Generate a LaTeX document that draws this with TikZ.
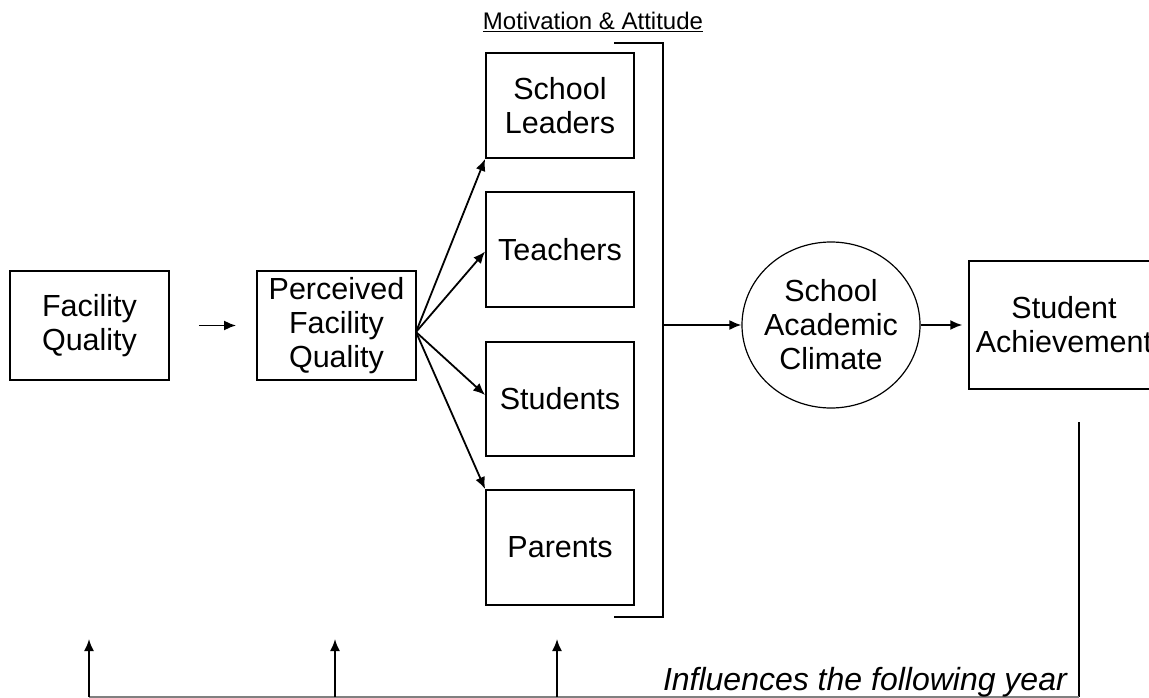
\documentclass[tikz,border=0pt]{standalone}
\usepackage{fontspec}
\setmainfont{Liberation Sans}
\usetikzlibrary{shapes.geometric,arrows.meta}
\begin{document}
\begin{tikzpicture}[x=1pt,y=-1pt,
  box/.style={draw,line width=1.8pt,inner sep=0pt,align=center,font=\fontsize{30.5}{34}\selectfont},
  arr/.style={line width=1.8pt,-{Latex[length=12pt,width=10pt]}},
  thinline/.style={line width=1.2pt},
  note/.style={inner sep=0pt,font=\fontsize{24}{28}\selectfont}]
\useasboundingbox (0,0) rectangle (1149,698);
\clip (0,0) rectangle (1149,698);
% boxes
\node[box,minimum width=159pt,minimum height=109pt] (fq) at (89.5,325.5) {Facility\\Quality};
\node[box,minimum width=159pt,minimum height=109pt] (pf) at (336.5,325.5) {Perceived\\Facility\\Quality};
\node[box,minimum width=148pt,minimum height=105pt] (sl) at (560,105.5) {School\\Leaders};
\node[box,minimum width=148pt,minimum height=115pt] (te) at (560,249.5) {Teachers};
\node[box,minimum width=148pt,minimum height=114pt] (st) at (560,399) {Students};
\node[box,minimum width=148pt,minimum height=115pt] (pa) at (560,547.5) {Parents};
\node[draw,ellipse,line width=1.2pt,inner xsep=-5pt,inner ysep=0pt,align=center,minimum width=178pt,minimum height=166pt,font=\fontsize{30.5}{34}\selectfont] (sac) at (831,325) {School\\Academic\\Climate};
\node[box,line width=1.4pt,minimum width=190pt,minimum height=128pt] (sa) at (1064,325) {Student\\Achievement};
% title
\node[note,anchor=base] (title) at (593,30) {\underline{Motivation \& Attitude}};
% bracket
\coordinate (b1) at (614,43);
\coordinate (b2) at (663,43);
\coordinate (b3) at (663,617);
\coordinate (b4) at (614,617);
\coordinate (bk) at (663,325);
\draw[line width=1.8pt] (b1) -- (b2) -- (b3) -- (b4);
% arrows
\draw[arr] ([xshift=29pt]fq.east) -- ([xshift=-20pt]pf.west);
\coordinate (fo) at (416,332);
\draw[arr] (fo) -- (sl.south west);
\draw[arr] (fo) -- ([yshift=-2pt]te.west);
\draw[arr] (fo) -- ([yshift=4pt]st.west);
\draw[arr] (fo) -- (pa.north west);
\draw[arr] (bk) -- (sac.west);
\draw[arr] (sac.east) -- ([xshift=-6pt]sa.west);
% feedback
\coordinate (ft) at (1079,422);
\coordinate (fc) at (1079,697);
\coordinate (f1) at (89,697);
\coordinate (f2) at (335,697);
\coordinate (f3) at (557,697);
\coordinate (t1) at (89,639);
\coordinate (t2) at (335,639);
\coordinate (t3) at (557,639);
\draw[thinline] (ft) -- (fc);
\draw[thinline,black!50] (fc) -- (f1);
\draw[arr] (f1) -- (t1);
\draw[arr] (f2) -- (t2);
\draw[arr] (f3) -- (t3);
\node[note,anchor=base east,font=\fontsize{32}{34}\selectfont\itshape] (infl) at (1067,690) {Influences the following year};
\end{tikzpicture}
\end{document}
